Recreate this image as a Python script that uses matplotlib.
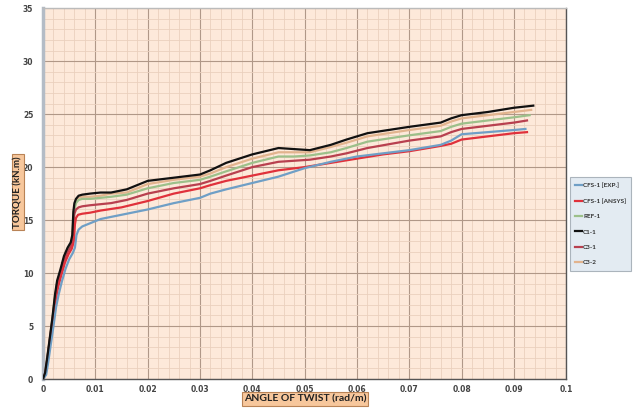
import matplotlib.pyplot as plt
from matplotlib.ticker import MultipleLocator

# Torque vs angle of twist

exp_x = [0, 0.0006, 0.001, 0.0015, 0.002, 0.0025, 0.003, 0.0036, 0.0043, 0.005, 0.0057, 0.0061,
         0.0064, 0.0068, 0.0075, 0.009, 0.011, 0.015, 0.02, 0.025, 0.03, 0.032, 0.035, 0.04,
         0.045, 0.05, 0.055, 0.06, 0.065, 0.07, 0.076, 0.078, 0.08, 0.085, 0.09, 0.0922]
exp_y = [0, 0.4, 1.6, 3.3, 5.0, 6.8, 8.0, 9.2, 10.4, 11.3, 11.9, 12.4,
         13.6, 14.1, 14.4, 14.7, 15.1, 15.5, 16.0, 16.6, 17.1, 17.5, 17.9, 18.5,
         19.1, 19.9, 20.5, 21.0, 21.3, 21.6, 22.1, 22.5, 23.1, 23.3, 23.5, 23.6]

ansys_x = [0, 0.0005, 0.0009, 0.0014, 0.0019, 0.0024, 0.0029, 0.0035, 0.0042, 0.0049, 0.0055, 0.0059,
           0.0061, 0.0063, 0.0067, 0.0075, 0.009, 0.011, 0.015, 0.02, 0.025, 0.03, 0.032, 0.035,
           0.04, 0.045, 0.05, 0.055, 0.06, 0.065, 0.07, 0.076, 0.078, 0.08, 0.085, 0.09, 0.0925]
ansys_y = [0, 0.5, 1.8, 3.6, 5.4, 7.4, 8.7, 9.8, 11.0, 11.8, 12.3, 13.0,
           14.6, 15.2, 15.5, 15.6, 15.7, 15.9, 16.2, 16.8, 17.5, 18.0, 18.3, 18.7,
           19.2, 19.7, 20.0, 20.4, 20.8, 21.2, 21.5, 22.0, 22.2, 22.6, 22.9, 23.2, 23.3]

# shared abscissa for the four parametric curves (end point differs)
param_x = [0, 0.0004, 0.0008, 0.0013, 0.0018, 0.0023, 0.0027, 0.0033, 0.004, 0.0047, 0.0053, 0.0056,
           0.0058, 0.006, 0.0063, 0.0068, 0.0075, 0.009, 0.011, 0.013, 0.016, 0.02, 0.025, 0.03,
           0.032, 0.035, 0.04, 0.045, 0.048, 0.051, 0.055, 0.058, 0.062, 0.07, 0.076, 0.078,
           0.08, 0.085, 0.09]

c11_y = [0, 0.6, 2.0, 3.9, 5.8, 8.0, 9.3, 10.3, 11.6, 12.4, 12.9, 13.6,
         15.8, 16.6, 17.0, 17.3, 17.4, 17.5, 17.6, 17.6, 17.9, 18.7, 19.0, 19.3,
         19.7, 20.4, 21.2, 21.8, 21.7, 21.6, 22.1, 22.6, 23.2, 23.8, 24.2, 24.6,
         24.9, 25.2, 25.6, 25.8]
c32_y = [0, 0.5, 1.9, 3.8, 5.7, 7.8, 9.1, 10.1, 11.4, 12.2, 12.7, 13.3,
         15.4, 16.3, 16.8, 17.1, 17.2, 17.2, 17.3, 17.5, 17.6, 18.4, 18.8, 19.1,
         19.4, 20.0, 20.8, 21.4, 21.4, 21.4, 21.9, 22.3, 22.9, 23.5, 23.9, 24.3,
         24.6, 24.9, 25.2, 25.4]
ref_y = [0, 0.5, 1.9, 3.7, 5.6, 7.7, 9.0, 10.0, 11.3, 12.1, 12.6, 13.2,
         15.1, 16.0, 16.6, 16.9, 17.0, 17.0, 17.1, 17.2, 17.4, 18.0, 18.5, 18.8,
         19.1, 19.6, 20.4, 21.0, 21.0, 21.1, 21.4, 21.8, 22.4, 23.0, 23.4, 23.8,
         24.1, 24.4, 24.7, 24.9]
c31_y = [0, 0.5, 1.8, 3.7, 5.5, 7.6, 8.9, 9.9, 11.2, 12.0, 12.5, 13.0,
         14.6, 15.6, 16.0, 16.2, 16.3, 16.4, 16.5, 16.6, 16.9, 17.5, 18.0, 18.4,
         18.7, 19.2, 20.0, 20.5, 20.6, 20.7, 21.0, 21.3, 21.8, 22.5, 22.9, 23.3,
         23.6, 23.9, 24.2, 24.4]
param_end_x = {"C1-1": 0.0937, "C3-2": 0.0933, "REF-1": 0.093, "C3-1": 0.0925}

series = [
    ("CFS-1 [EXP.]", exp_x, exp_y, "#6f9fc6"),
    ("CFS-1 [ANSYS]", ansys_x, ansys_y, "#e0313b"),
    ("REF-1", param_x + [param_end_x["REF-1"]], ref_y, "#9cc08a"),
    ("C1-1", param_x + [param_end_x["C1-1"]], c11_y, "#111111"),
    ("C3-1", param_x + [param_end_x["C3-1"]], c31_y, "#b8404f"),
    ("C3-2", param_x + [param_end_x["C3-2"]], c32_y, "#e2b48e"),
]

fig = plt.figure(figsize=(6.42, 4.08), dpi=100)
ax = fig.add_axes([0.067, 0.071, 0.815, 0.909])
ax.set_facecolor("#fde9da")

# draw lower curves first so the black one sits on top like the original
draw_order = ["C3-2", "REF-1", "C3-1", "CFS-1 [ANSYS]", "CFS-1 [EXP.]", "C1-1"]
handles = {}
for name, xs, ys, col in series:
    z = 3 + draw_order.index(name)
    line, = ax.plot(xs, ys, color=col, lw=1.6, label=name, zorder=z,
                    solid_joinstyle="round")
    handles[name] = line

ax.set_xlim(0, 0.1)
ax.set_ylim(0, 35)
ax.xaxis.set_major_locator(MultipleLocator(0.01))
ax.xaxis.set_minor_locator(MultipleLocator(0.002))
ax.yaxis.set_major_locator(MultipleLocator(5))
ax.yaxis.set_minor_locator(MultipleLocator(1))
ax.grid(which="major", color="#b09888", lw=0.8, zorder=0)
ax.grid(which="minor", color="#ead0be", lw=0.6, zorder=0)
ax.set_axisbelow(True)
ax.tick_params(which="both", length=0, labelsize=5.5, colors="#444444")
ax.tick_params(axis="x", pad=4)
ax.tick_params(axis="y", pad=7)
ax.set_xticks([0, 0.01, 0.02, 0.03, 0.04, 0.05, 0.06, 0.07, 0.08, 0.09, 0.1])
ax.set_xticklabels(["0", "0.01", "0.02", "0.03", "0.04", "0.05", "0.06", "0.07",
                    "0.08", "0.09", "0.1"])
for lab in ax.get_xticklabels() + ax.get_yticklabels():
    lab.set_fontweight("bold")

for side in ["top", "right", "bottom"]:
    ax.spines[side].set_color("#555555")
    ax.spines[side].set_linewidth(1.0)
ax.spines["top"].set_color("#bbbbbb")
ax.spines["left"].set_color("#b4bcc6")
ax.spines["left"].set_linewidth(2.5)

box = dict(boxstyle="square,pad=0.2", facecolor="#f7c79c", edgecolor="#b98356", lw=0.8)
fig.text(0.028, 0.53, "TORQUE (kN.m)", rotation=90, ha="center", va="center",
         fontsize=7, fontweight="bold", family="Lato", color="#222222", bbox=box)
fig.text(0.475, 0.022, "ANGLE OF TWIST (rad/m)", ha="center", va="center",
         fontsize=7.5, fontweight="bold", family="Lato", color="#222222", bbox=box)

leg = fig.legend([handles[s[0]] for s in series], [s[0] for s in series],
                 loc="upper left", bbox_to_anchor=(0.888, 0.565),
                 frameon=True, fancybox=False, handlelength=1.0, handletextpad=0.25,
                 labelspacing=1.55, borderpad=0.8, borderaxespad=0,
                 prop={"weight": "bold", "size": 4.6, "family": "Lato"})
leg.get_frame().set_facecolor("#dce7ef")
leg.get_frame().set_edgecolor("#9aa4ad")
leg.get_frame().set_linewidth(0.8)
for t in leg.get_texts():
    t.set_color("#333333")

fig.savefig("out.png", dpi=100)
